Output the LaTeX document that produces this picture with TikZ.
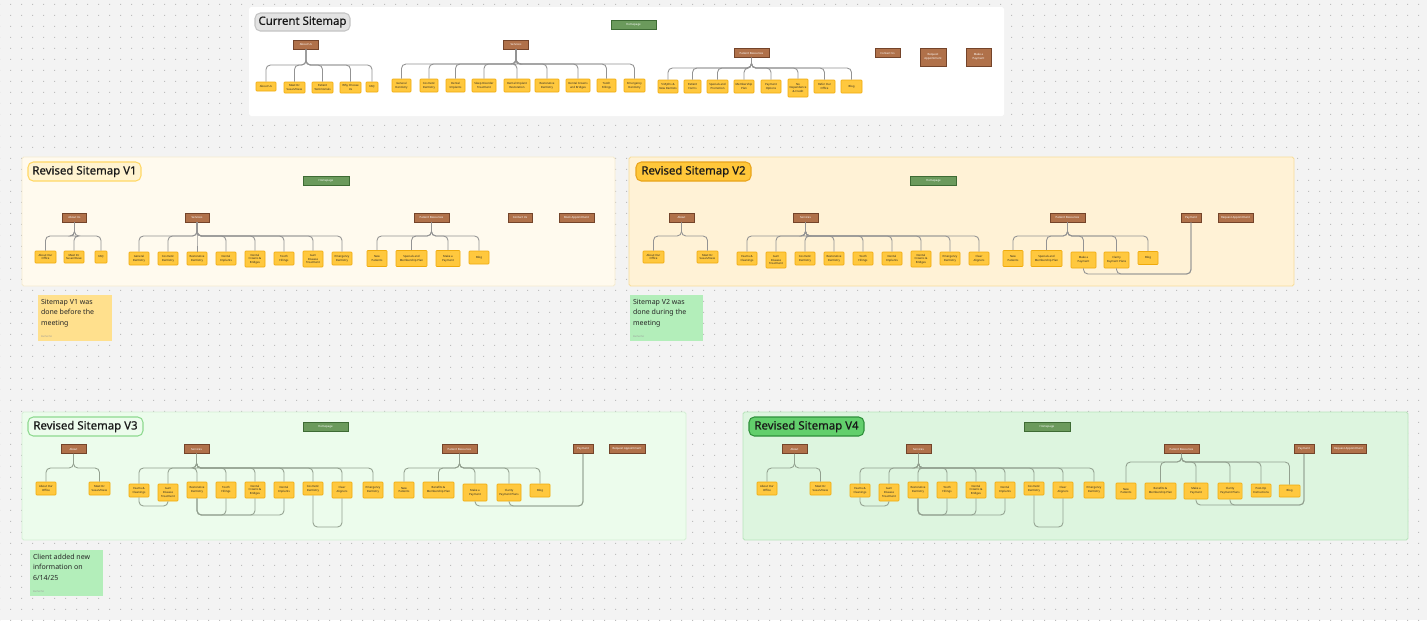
\documentclass[tikz,border=0pt]{standalone}
\usepackage{fontspec}
\setmainfont{Noto Sans}
\newfontfamily\titlefont{Noto Sans}[FakeBold=0.5]
\usepackage{xcolor}
\usepackage{tikz}
\usetikzlibrary{positioning, calc, patterns}

\definecolor{canvas}{HTML}{F3F3F3}
\definecolor{griddot}{HTML}{BDBDBD}
\definecolor{homefill}{HTML}{6B9A5C}
\definecolor{homeline}{HTML}{3E6B34}
\definecolor{secfill}{HTML}{B0714A}
\definecolor{secline}{HTML}{74442A}
\definecolor{leaffill}{HTML}{FFC83E}
\definecolor{leafline}{HTML}{EFAA0C}
\definecolor{wire}{HTML}{939393}
\definecolor{wiregreen}{HTML}{93A190}
\definecolor{vonefill}{HTML}{FFFAEE}
\definecolor{voneline}{HTML}{F5EBD0}
\definecolor{vtwofill}{HTML}{FFF2D6}
\definecolor{vtwoline}{HTML}{F8DE9A}
\definecolor{vthreefill}{HTML}{ECFCEC}
\definecolor{vthreeline}{HTML}{D5F0D5}
\definecolor{vfourfill}{HTML}{DDF5DF}
\definecolor{vfourline}{HTML}{B8E4BB}
\definecolor{stickyyellow}{HTML}{FFE08D}
\definecolor{stickygreen}{HTML}{B3EEBA}
\definecolor{curtitlefill}{HTML}{E3E3E3}
\definecolor{curtitleline}{HTML}{C4C4C4}
\definecolor{onetitlefill}{HTML}{FFF3D0}
\definecolor{onetitleline}{HTML}{FFD865}
\definecolor{twotitlefill}{HTML}{FFC73A}
\definecolor{twotitleline}{HTML}{E9A41B}
\definecolor{threetitleline}{HTML}{8ED98F}
\definecolor{fourtitlefill}{HTML}{62CF6C}
\definecolor{fourtitleline}{HTML}{2F903B}

\newlength\pxu
\setlength\pxu{0.02cm}

\pgfdeclarepatternformonly{griddots}{\pgfpointorigin}{\pgfpoint{11.25\pxu}{11.25\pxu}}{\pgfpoint{11.25\pxu}{11.25\pxu}}{%
  \pgfpathrectangle{\pgfpointorigin}{\pgfpoint{1.3\pxu}{1.3\pxu}}\pgfusepath{fill}}

\begin{document}
\begin{tikzpicture}[x=0.02cm, y=-0.02cm,
  board/.style={rectangle, line width=0.5pt, rounded corners=1pt, inner sep=0pt},
  boardtitle/.style={rectangle, line width=0.6pt, rounded corners=3pt, inner sep=0pt, font=\titlefont\fontsize{6.5}{7.5}\selectfont, text=black!90},
  home/.style={rectangle, draw=homeline, fill=homefill, line width=0.35pt, minimum width=45\pxu, minimum height=9\pxu, inner sep=0pt, text=white, font=\fontsize{1.6}{2}\selectfont},
  section/.style={rectangle, draw=secline, fill=secfill, line width=0.35pt, minimum width=25\pxu, minimum height=9\pxu, inner sep=0pt, align=center, text=white, font=\fontsize{1.6}{2}\selectfont},
  page/.style={rectangle, draw=leafline, fill=leaffill, line width=0.3pt, rounded corners=0.4pt, minimum width=20\pxu, minimum height=13\pxu, inner sep=0pt, align=center, text=black!85, font=\fontsize{1.6}{2.1}\selectfont},
  wd/.style={minimum width=#1\pxu},
  ht/.style={minimum height=#1\pxu},
  conn/.style={draw=wire, line width=0.5pt, rounded corners=2.5pt},
  conng/.style={conn, draw=wiregreen},
  sticky/.style={rectangle, inner sep=0pt, minimum width=74\pxu, minimum height=46\pxu},
  notetext/.style={inner sep=0pt, align=left, font=\fontsize{4}{6}\selectfont, text=black!85},
  noteauthor/.style={inner sep=0pt, font=\fontsize{1.4}{1.6}\selectfont, text=black!40}
]
  \useasboundingbox (0,0) rectangle (1427,620);
  \fill[canvas] (0,0) rectangle (1427,620);
  \fill[pattern=griddots, pattern color=griddot] (0,0) rectangle (1427,620);

  % boards
  \node[board, fill=white, minimum width=755\pxu, minimum height=109\pxu] (curboard) at (626.5,61.5) {};
  \node[board, draw=voneline, fill=vonefill, minimum width=593\pxu, minimum height=129\pxu] (oneboard) at (318.5,221.5) {};
  \node[board, draw=vtwoline, fill=vtwofill, minimum width=665\pxu, minimum height=129\pxu] (twoboard) at (961.5,221.5) {};
  \node[board, draw=vthreeline, fill=vthreefill, minimum width=664\pxu, minimum height=128\pxu] (threeboard) at (354,476) {};
  \node[board, draw=vfourline, fill=vfourfill, minimum width=665\pxu, minimum height=128\pxu] (fourboard) at (1075.5,476) {};

  \node[boardtitle, draw=curtitleline, fill=curtitlefill, minimum width=95\pxu, minimum height=18\pxu] (curtitle) at (302.5,22) {Current Sitemap};
  \node[boardtitle, draw=onetitleline, fill=onetitlefill, minimum width=113\pxu, minimum height=19\pxu] (onetitle) at (84.5,171.5) {Revised Sitemap V1};
  \node[boardtitle, draw=twotitleline, fill=twotitlefill, minimum width=115\pxu, minimum height=19\pxu] (twotitle) at (693.5,171.5) {Revised Sitemap V2};
  \node[boardtitle, draw=threetitleline, fill=vthreefill, minimum width=115\pxu, minimum height=19\pxu] (threetitle) at (85.5,426.5) {Revised Sitemap V3};
  \node[boardtitle, draw=fourtitleline, fill=fourtitlefill, minimum width=115\pxu, minimum height=19\pxu] (fourtitle) at (806.5,426.5) {Revised Sitemap V4};

  % sticky notes
  \node[sticky, fill=stickyyellow] (onenote) at (75,318) {};
  \node[notetext, anchor=north west] (onenotetext) at ($(onenote.north west)+(3,4)$) {Sitemap V1 was\\done before the\\meeting};
  \node[noteauthor, anchor=south west] (onenoteby) at ($(onenote.south west)+(3,-3)$) {Rachel M.};
  \node[sticky, fill=stickygreen, minimum width=73\pxu] (twonote) at (666.5,318) {};
  \node[notetext, anchor=north west] (twonotetext) at ($(twonote.north west)+(3,4)$) {Sitemap V2 was\\done during the\\meeting};
  \node[noteauthor, anchor=south west] (twonoteby) at ($(twonote.south west)+(3,-3)$) {Rachel M.};
  \node[sticky, fill=stickygreen, minimum width=73\pxu] (threenote) at (66.5,573) {};
  \node[notetext, anchor=north west] (threenotetext) at ($(threenote.north west)+(3,4)$) {Client added new\\information on\\6/14/25};
  \node[noteauthor, anchor=south west] (threenoteby) at ($(threenote.south west)+(3,-3)$) {Rachel M.};

  % current sitemap
  \node[home] (c-home) at (633.5,24.5) {Homepage};
  \node[section] (c-about) at (306,44.5) {About Us};
  \node[section] (c-serv) at (516,44.5) {Services};
  \node[section, wd=35] (c-pat) at (751.5,53) {Patient Resources};
  \node[section] (c-contact) at (887.5,53) {Contact Us};
  \node[section, wd=26, ht=18] (c-req) at (933,57) {Request\\Appointment};
  \node[section, ht=18] (c-pay) at (978.5,57) {Make a\\Payment};

  \node[page, ht=9] (ca1) at (266,86.5) {About Us};
  \node[page, wd=21, ht=11] (ca2) at (294.5,87.5) {Meet Dr.\\Susan/Dave};
  \node[page, wd=21, ht=11] (ca3) at (322.5,87.5) {Patient\\Testimonials};
  \node[page, wd=21, ht=11] (ca4) at (350.5,87.5) {Why Choose\\Us};
  \node[page, wd=12, ht=10] (ca5) at (372,87) {FAQ};

  \node[page, wd=19] (cs1) at (401.5,85.5) {General\\Dentistry};
  \node[page, wd=18] (cs2) at (429,85.5) {Cosmetic\\Dentistry};
  \node[page, wd=19] (cs3) at (455.5,85.5) {Dental\\Implants};
  \node[page, wd=24] (cs4) at (484,85.5) {Sleep Disorder\\Treatment};
  \node[page, wd=26] (cs5) at (517,85.5) {Dental Implant\\Restoration};
  \node[page, wd=24] (cs6) at (547,85.5) {Restorative\\Dentistry};
  \node[page, wd=24] (cs7) at (578,85.5) {Dental Crowns\\and Bridges};
  \node[page, wd=19] (cs8) at (606.5,85.5) {Tooth\\Fillings};
  \node[page, wd=21] (cs9) at (634.5,85.5) {Emergency\\Dentistry};

  \node[page] (cp1) at (668,86.5) {5 Myths \&\\New Dentists};
  \node[page, wd=17] (cp2) at (692.5,86.5) {Patient\\Forms};
  \node[page, wd=21] (cp3) at (717.5,86.5) {Specials and\\Promotion};
  \node[page] (cp4) at (744,86.5) {Membership\\Plan};
  \node[page] (cp5) at (771,86.5) {Payment\\Options};
  \node[page, ht=18] (cp6) at (798,88) {No\\Dependence\\\& Credit};
  \node[page, wd=21] (cp7) at (824.5,86.5) {Refer Our\\Office};
  \node[page, wd=21] (cp8) at (851.5,86.5) {Blog};

  \foreach \n in {ca1,ca2,ca3,ca4,ca5}
    \draw[conn] (c-about.south) -- (c-about.south |- 0,65) -| (\n.north);
  \foreach \n in {cs1,cs2,cs3,cs4,cs5,cs6,cs7,cs8,cs9}
    \draw[conn] (c-serv.south) -- (c-serv.south |- 0,64) -| (\n.north);
  \foreach \n in {cp1,cp2,cp3,cp4,cp5,cp6,cp7,cp8}
    \draw[conn] (c-pat.south) -- (c-pat.south |- 0,68) -| (\n.north);

  % revised sitemap v1
  \node[home, wd=46] (a-home) at (326,180.5) {Homepage};
  \node[section, wd=24] (a-about) at (74.5,217.5) {About Us};
  \node[section, wd=24] (a-serv) at (197,217.5) {Services};
  \node[section, wd=35] (a-pat) at (431.5,217.5) {Patient Resources};
  \node[section, wd=24] (a-contact) at (520,217.5) {Contact Us};
  \node[section, wd=35] (a-book) at (576.5,217.5) {Book Appointment};

  \node[page, wd=21, ht=12] (aa1) at (45.5,257) {About Our\\Office};
  \node[page, ht=12] (aa2) at (74,257) {Meet Dr.\\Susan/Dave};
  \node[page, wd=12, ht=12] (aa3) at (101,257) {FAQ};

  \node[page] (as1) at (139,258.5) {General\\Dentistry};
  \node[page] (as2) at (168,258.5) {Cosmetic\\Dentistry};
  \node[page] (as3) at (197,258.5) {Restorative\\Dentistry};
  \node[page] (as4) at (226,258.5) {Dental\\Implants};
  \node[page, ht=16] (as5) at (255,259) {Dental\\Crowns \&\\Bridges};
  \node[page] (as6) at (284,258.5) {Tooth\\Fillings};
  \node[page, ht=16] (as7) at (313,259) {Gum\\Disease\\Treatment};
  \node[page] (as8) at (342,258.5) {Emergency\\Dentistry};

  \node[page, ht=16] (ap1) at (377,258.5) {New\\Patients};
  \node[page, wd=31, ht=16] (ap2) at (411.5,258.5) {Specials and\\Membership Plan};
  \node[page, wd=24, ht=16] (ap3) at (448,258.5) {Make a\\Payment};
  \node[page] (ap4) at (479,257.5) {Blog};

  \foreach \n in {aa1,aa2,aa3}
    \draw[conn] (a-about.south) -- (a-about.south |- 0,236) -| (\n.north);
  \foreach \n in {as1,as2,as3,as4,as5,as6,as7,as8}
    \draw[conn] (a-serv.south) -- (a-serv.south |- 0,236) -| (\n.north);
  \foreach \n in {ap1,ap2,ap3,ap4}
    \draw[conn] (a-pat.south) -- (a-pat.south |- 0,236) -| (\n.north);

  % revised sitemap v2
  \node[home, wd=46] (b-home) at (933.5,180.5) {Homepage};
  \node[section] (b-about) at (681.5,217.5) {About};
  \node[section] (b-serv) at (805.5,217.5) {Services};
  \node[section, wd=35] (b-pat) at (1067.5,217.5) {Patient Resources};
  \node[section, wd=20] (b-pay) at (1191,217.5) {Payment};
  \node[section, wd=35] (b-req) at (1235.5,217.5) {Request Appointment};

  \node[page, wd=21, ht=12] (ba1) at (653.5,257) {About Our\\Office};
  \node[page, wd=21, ht=12] (ba2) at (707.5,257) {Meet Dr.\\Susan/Dave};

  \node[page] (bs1) at (747,258.5) {Exams \&\\Cleanings};
  \node[page, ht=16] (bs2) at (776,260) {Gum\\Disease\\Treatment};
  \node[page] (bs3) at (805,258.5) {Cosmetic\\Dentistry};
  \node[page] (bs4) at (834,258.5) {Restorative\\Dentistry};
  \node[page] (bs5) at (863,258.5) {Tooth\\Fillings};
  \node[page] (bs6) at (892,258.5) {Dental\\Implants};
  \node[page, ht=16] (bs7) at (921,259) {Dental\\Crowns \&\\Bridges};
  \node[page] (bs8) at (950,258.5) {Emergency\\Dentistry};
  \node[page] (bs9) at (979,258.5) {Clear\\Aligners};

  \node[page, ht=16] (bp1) at (1013,258.5) {New\\Patients};
  \node[page, wd=31, ht=16] (bp2) at (1046.5,258.5) {Specials and\\Membership Plan};
  \node[page, wd=25, ht=16] (bp3) at (1083.5,260) {Make a\\Payment};
  \node[page, wd=25, ht=16] (bp4) at (1116.5,260) {Clarity\\Payment Plans};
  \node[page] (bp5) at (1148,258) {Blog};

  \foreach \n in {ba1,ba2}
    \draw[conn] (b-about.south) -- (b-about.south |- 0,236) -| (\n.north);
  \foreach \n in {bs1,bs2,bs3,bs4,bs5,bs6,bs7,bs8,bs9}
    \draw[conn] (b-serv.south) -- (b-serv.south |- 0,236) -| (\n.north);
  \foreach \n in {bp1,bp2,bp3,bp4,bp5}
    \draw[conn] (b-pat.south) -- (b-pat.south |- 0,236) -| (\n.north);
  \foreach \n in {bp3,bp4}
    \draw[conn] (b-pay.south) -- (b-pay.south |- 0,274) -| (\n.south);

  % revised sitemap v3
  \node[home] (t-home) at (325.5,426.5) {Homepage};
  \node[section] (t-about) at (73.5,449) {About};
  \node[section] (t-serv) at (196.5,449) {Services};
  \node[section, wd=35] (t-pat) at (459.5,449) {Patient Resources};
  \node[section, wd=20] (t-pay) at (583,449) {Payment};
  \node[section, wd=36] (t-req) at (627,449) {Request Appointment};

  \node[page] (ta1) at (46,488.5) {About Our\\Office};
  \node[page, wd=21] (ta2) at (99.5,488.5) {Meet Dr.\\Susan/Dave};

  \node[page] (ts1) at (139,490.5) {Exams \&\\Cleanings};
  \node[page, ht=17] (ts2) at (168,492.5) {Gum\\Disease\\Treatment};
  \node[page, ht=16] (ts3) at (197,490) {Restorative\\Dentistry};
  \node[page, ht=16] (ts4) at (226,490) {Tooth\\Fillings};
  \node[page, ht=16] (ts5) at (255,490) {Dental\\Crowns \&\\Bridges};
  \node[page, ht=16] (ts6) at (284,490) {Dental\\Implants};
  \node[page] (ts7) at (313,488.5) {Cosmetic\\Dentistry};
  \node[page, ht=16] (ts8) at (342,490) {Clear\\Aligners};
  \node[page, ht=16] (ts9) at (373,490) {Emergency\\Dentistry};

  \node[page, ht=16] (tp1) at (404,490) {New\\Patients};
  \node[page, wd=31, ht=16] (tp2) at (438.5,490) {Benefits \&\\Membership Plan};
  \node[page, wd=24, ht=17] (tp3) at (475,492.5) {Make a\\Payment};
  \node[page, wd=24, ht=17] (tp4) at (509,492.5) {Clarity\\Payment Plans};
  \node[page] (tp5) at (540,490.5) {Blog};

  \foreach \n in {ta1,ta2}
    \draw[conng] (t-about.south) -- (t-about.south |- 0,468) -| (\n.north);
  \foreach \n in {ts1,ts2,ts3,ts4,ts5,ts6,ts7,ts8,ts9}
    \draw[conng] (t-serv.south) -- (t-serv.south |- 0,468) -| (\n.north);
  \draw[conng] (ts1.south) -- (ts1.south |- 0,506) -| (ts2.south);
  \foreach \n in {ts4,ts5,ts6}
    \draw[conng] (ts3.south) -- (ts3.south |- 0,515) -| (\n.south);
  \draw[conng] (ts7.south) -- (ts7.south |- 0,527) -| (ts8.south);
  \foreach \n in {tp1,tp2,tp3,tp4,tp5}
    \draw[conng] (t-pat.south) -- (t-pat.south |- 0,468) -| (\n.north);
  \foreach \n in {tp3,tp4}
    \draw[conng] (t-pay.south) -- (t-pay.south |- 0,506) -| (\n.south);

  % revised sitemap v4
  \node[home, wd=46] (f-home) at (1047,426.5) {Homepage};
  \node[section] (f-about) at (794.5,449) {About};
  \node[section] (f-serv) at (918.5,449) {Services};
  \node[section, wd=35] (f-pat) at (1181.5,449) {Patient Resources};
  \node[section, wd=20] (f-pay) at (1304,449) {Payment};
  \node[section, wd=35] (f-req) at (1348.5,449) {Request Appointment};

  \node[page] (fa1) at (767,488.5) {About Our\\Office};
  \node[page, wd=21] (fa2) at (820.5,488.5) {Meet Dr.\\Susan/Dave};

  \node[page] (fs1) at (860,490.5) {Exams \&\\Cleanings};
  \node[page, ht=17] (fs2) at (889,492.5) {Gum\\Disease\\Treatment};
  \node[page, ht=16] (fs3) at (918,490) {Restorative\\Dentistry};
  \node[page, ht=16] (fs4) at (947,490) {Tooth\\Fillings};
  \node[page, ht=16] (fs5) at (976,490) {Dental\\Crowns \&\\Bridges};
  \node[page, ht=16] (fs6) at (1005,490) {Dental\\Implants};
  \node[page] (fs7) at (1034,488.5) {Cosmetic\\Dentistry};
  \node[page, ht=16] (fs8) at (1063,490) {Clear\\Aligners};
  \node[page, ht=16] (fs9) at (1094,490) {Emergency\\Dentistry};

  \node[page, ht=16] (fp1) at (1126,491) {New\\Patients};
  \node[page, wd=31, ht=16] (fp2) at (1160.5,491) {Benefits \&\\Membership Plan};
  \node[page, wd=24, ht=16] (fp3) at (1196,491) {Make a\\Payment};
  \node[page, wd=24, ht=16] (fp4) at (1230,491) {Clarity\\Payment Plans};
  \node[page] (fp5) at (1261,490.5) {Post-Op\\Instructions};
  \node[page, wd=21, ht=12] (fp6) at (1289.5,491) {Blog};

  \foreach \n in {fa1,fa2}
    \draw[conng] (f-about.south) -- (f-about.south |- 0,468) -| (\n.north);
  \foreach \n in {fs1,fs2,fs3,fs4,fs5,fs6,fs7,fs8,fs9}
    \draw[conng] (f-serv.south) -- (f-serv.south |- 0,468) -| (\n.north);
  \draw[conng] (fs1.south) -- (fs1.south |- 0,506) -| (fs2.south);
  \foreach \n in {fs4,fs5,fs6}
    \draw[conng] (fs3.south) -- (fs3.south |- 0,515) -| (\n.south);
  \draw[conng] (fs7.south) -- (fs7.south |- 0,527) -| (fs8.south);
  \foreach \n in {fp1,fp2,fp3,fp4,fp5,fp6}
    \draw[conng] (f-pat.south) -- (f-pat.south |- 0,462) -| (\n.north);
  \foreach \n in {fp3,fp4}
    \draw[conng] (f-pay.south) -- (f-pay.south |- 0,505) -| (\n.south);
\end{tikzpicture}
\end{document}
